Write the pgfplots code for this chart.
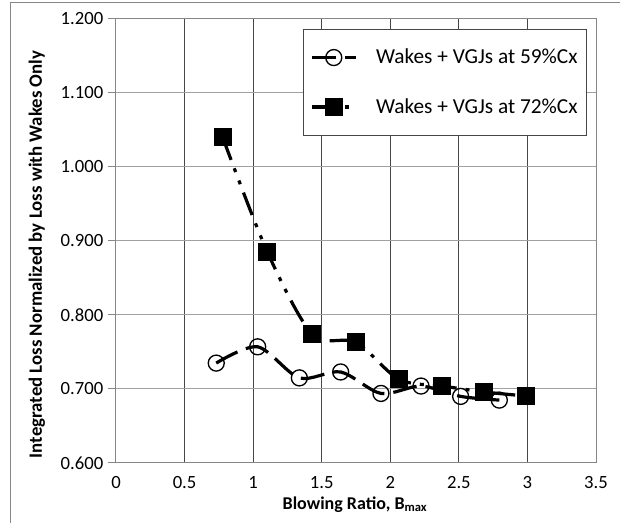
\documentclass[border=0pt]{standalone}
\usepackage{pgfplots}
\pgfplotsset{compat=1.18}
\usepackage{fontspec}
\setmainfont{Carlito}
\definecolor{gridgray}{RGB}{134,134,134}
\definecolor{hgrid}{RGB}{160,160,160}
\definecolor{vgrid}{RGB}{70,70,70}
\definecolor{framegray}{RGB}{134,134,134}
\definecolor{leggray}{RGB}{70,70,70}
\begin{document}
\begin{tikzpicture}
\useasboundingbox (-87pt,-45pt) rectangle (378pt,347.25pt);
\draw[framegray, line width=0.75pt] (-78.75pt,-50pt) |- (400pt,345pt);
\begin{axis}[
  scale only axis,
  width=360pt, height=333pt,
  xmin=0, xmax=3.5, ymin=0.6, ymax=1.2,
  xtick={0,0.5,1,1.5,2,2.5,3,3.5},
  ytick={0.6,0.7,0.8,0.9,1.0,1.1,1.2},
  yticklabel={\fontsize{14}{16.8}\selectfont\pgfmathprintnumber[fixed,fixed zerofill,precision=3,assume math mode=true]{\tick}},
  xticklabel={\fontsize{14}{16.8}\selectfont\pgfmathprintnumber[assume math mode=true]{\tick}},
  xticklabel style={inner sep=1pt, anchor=center, yshift=-14.5pt},
  ytick pos=left,
  xtick style={draw=none},
  ytick style={draw=gridgray, line width=0.75pt},
  ytick align=outside,
  major tick length=6pt,
  xmajorgrids, ymajorgrids,
  x grid style={draw=vgrid, line width=0.75pt},
  y grid style={draw=hgrid, line width=0.75pt},
  axis line style={draw=gridgray, line width=0.75pt},
  xlabel={\textbf{Blowing Ratio, B\textsubscript{max}}},
  ylabel={\textbf{Integrated Loss Normalized by Loss with Wakes Only}},
  every axis x label/.style={at={(axis description cs:0.498,-0.093)}, anchor=center, font=\fontsize{13.5}{16}\selectfont},
  every axis y label/.style={at={(axis description cs:-0.1646,0.4696)}, rotate=90, anchor=center, font=\fontsize{14.1}{17}\selectfont},
  legend style={at={(axis description cs:1,1)}, anchor=north east, xshift=-6.5pt, yshift=-7.5pt,
    draw=leggray, line width=0.75pt, font=\fontsize{16}{19}\selectfont,
    inner xsep=5pt, inner ysep=12.75pt, row sep=20.5pt, column sep=12pt},
  legend cell align=left,
  legend image code/.code={\draw[mark repeat=2,mark phase=2,#1] plot coordinates {(0pt,0pt) (16.5pt,0pt) (33pt,0pt)};},
]
\addplot[black, line width=2.4pt, smooth, tension=0.5, dash pattern=on 18pt off 6.75pt,
  mark=o, mark size=6pt, mark options={solid, line width=1pt, fill=none}]
  coordinates {(0.731,0.735) (1.033,0.757) (1.337,0.715) (1.638,0.723) (1.932,0.694) (2.224,0.704) (2.513,0.690) (2.795,0.685)};
\addlegendentry{Wakes + VGJs at 59\%Cx}
\addplot[black, line width=2.4pt, smooth, tension=0.5, dash pattern=on 18pt off 6.75pt on 3pt off 6.75pt on 3pt off 6.75pt,
  mark=square*, mark size=6.4pt, mark options={solid, fill=black, line width=0pt}]
  coordinates {(0.778,1.040) (1.104,0.885) (1.432,0.774) (1.75,0.763) (2.064,0.713) (2.38,0.704) (2.686,0.696) (2.99,0.6905)};
\addlegendentry{Wakes + VGJs at 72\%Cx}
\end{axis}
\end{tikzpicture}
\end{document}
